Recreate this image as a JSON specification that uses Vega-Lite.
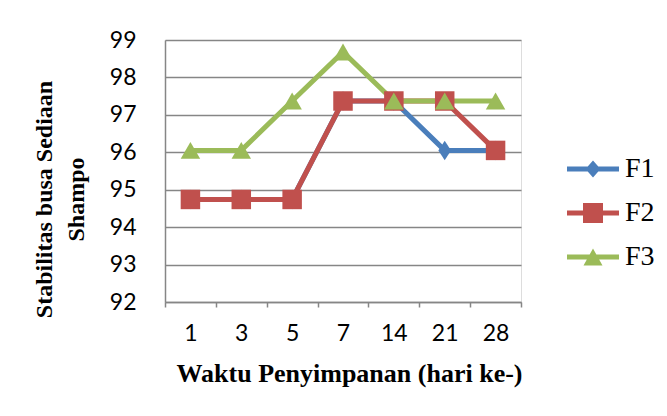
{
  "$schema": "https://vega.github.io/schema/vega-lite/v6.json",
  "width": 356,
  "height": 262,
  "autosize": {"type": "none"},
  "padding": {"left": 165, "top": 40, "right": 146, "bottom": 114},
  "background": "white",
  "data": {
    "values": [
      {"hari": 1, "series": "F1", "nilai": 94.74},
      {"hari": 3, "series": "F1", "nilai": 94.74},
      {"hari": 5, "series": "F1", "nilai": 94.74},
      {"hari": 7, "series": "F1", "nilai": 97.37},
      {"hari": 14, "series": "F1", "nilai": 97.37},
      {"hari": 21, "series": "F1", "nilai": 96.05},
      {"hari": 28, "series": "F1", "nilai": 96.05},
      {"hari": 1, "series": "F2", "nilai": 94.74},
      {"hari": 3, "series": "F2", "nilai": 94.74},
      {"hari": 5, "series": "F2", "nilai": 94.74},
      {"hari": 7, "series": "F2", "nilai": 97.37},
      {"hari": 14, "series": "F2", "nilai": 97.37},
      {"hari": 21, "series": "F2", "nilai": 97.37},
      {"hari": 28, "series": "F2", "nilai": 96.05},
      {"hari": 1, "series": "F3", "nilai": 96.05},
      {"hari": 3, "series": "F3", "nilai": 96.05},
      {"hari": 5, "series": "F3", "nilai": 97.37},
      {"hari": 7, "series": "F3", "nilai": 98.68},
      {"hari": 14, "series": "F3", "nilai": 97.37},
      {"hari": 21, "series": "F3", "nilai": 97.37},
      {"hari": 28, "series": "F3", "nilai": 97.37}
    ]
  },
  "encoding": {
    "x": {
      "field": "hari",
      "type": "ordinal",
      "scale": {"type": "band", "paddingInner": 0, "paddingOuter": 0},
      "axis": {
        "title": "Waktu Penyimpanan (hari ke-)",
        "titleFont": "Liberation Serif",
        "titleFontWeight": "bold",
        "titleFontSize": 26,
        "titleColor": "black",
        "titleX": 184,
        "titleY": 71,
        "titleBaseline": "middle",
        "titleAlign": "center",
        "labelAngle": 0,
        "labelFont": "Lato",
        "labelFontSize": 23,
        "labelColor": "black",
        "labelBaseline": "middle",
        "labelPadding": 26,
        "tickBand": "extent",
        "tickSize": 5,
        "tickColor": "#868686",
        "tickWidth": 1.5,
        "domainColor": "#868686",
        "domainWidth": 1.5,
        "grid": false
      }
    },
    "y": {
      "field": "nilai",
      "type": "quantitative",
      "scale": {"domain": [92, 99], "zero": false, "nice": false},
      "axis": {
        "values": [92, 93, 94, 95, 96, 97, 98, 99],
        "title": ["Stabilitas busa Sediaan", "Shampo"],
        "titleFont": "Liberation Serif",
        "titleFontWeight": "bold",
        "titleFontSize": 24,
        "titleLineHeight": 32,
        "titleColor": "black",
        "titleAngle": -90,
        "titleX": -121,
        "titleY": 159,
        "titleBaseline": "middle",
        "titleAlign": "center",
        "labelFont": "Lato",
        "labelFontSize": 23,
        "labelColor": "black",
        "labelPadding": 29,
        "ticks": false,
        "domainColor": "#868686",
        "domainWidth": 1.5,
        "grid": true,
        "gridColor": "#868686",
        "gridWidth": 1.5
      }
    }
  },
  "resolve": {"scale": {"shape": "independent"}, "legend": {"shape": "independent", "color": "independent"}},
  "layer": [
    {
      "mark": {"type": "line", "strokeWidth": 5},
      "encoding": {
        "color": {
          "field": "series",
          "type": "nominal",
          "scale": {"domain": ["F1", "F2", "F3"], "range": ["#4A7EBB", "#C0504D", "#9BBB59"]},
          "legend": null
        }
      }
    },
    {
      "mark": {"type": "point", "filled": true, "opacity": 1, "size": 380},
      "encoding": {
        "color": {"field": "series", "type": "nominal", "legend": null},
        "shape": {
          "field": "series",
          "type": "nominal",
          "scale": {"domain": ["F1", "F2", "F3"], "range": ["M0,-1L0.65,0L0,1L-0.65,0Z", "square", "triangle-up"]},
          "legend": null
        }
      }
    },
    {
      "transform": [{"filter": "datum.nilai > 1000"}],
      "mark": {"type": "point", "filled": true, "opacity": 1, "size": 400, "strokeWidth": 0},
      "encoding": {
        "color": {
          "field": "series",
          "type": "nominal",
          "legend": {
            "orient": "none",
            "legendX": 414,
            "legendY": 115,
            "title": null,
            "padding": 0,
            "symbolSize": 400,
            "symbolStrokeWidth": 0,
            "symbolOpacity": 1,
            "labelFont": "Liberation Serif",
            "labelFontSize": 28,
            "labelColor": "black",
            "labelOffset": 18,
            "rowPadding": 16
          }
        },
        "shape": {
          "field": "series",
          "type": "nominal",
          "scale": {
            "domain": ["F1", "F2", "F3"],
            "range": [
              "M-2.6,-0.25H2.6V0.25H-2.6Z M0,-0.85L0.75,0L0,0.85L-0.75,0Z",
              "M-2.6,-0.25H2.6V0.25H-2.6Z M-1,-1H1V1H-1Z",
              "M-2.6,-0.25H2.6V0.25H-2.6Z M0,-0.85L0.95,0.85L-0.95,0.85Z"
            ]
          },
          "legend": {
            "orient": "none",
            "legendX": 414,
            "legendY": 115,
            "title": null,
            "padding": 0,
            "symbolSize": 400,
            "symbolStrokeWidth": 0,
            "symbolOpacity": 1,
            "labelFont": "Liberation Serif",
            "labelFontSize": 28,
            "labelColor": "black",
            "labelOffset": 18,
            "rowPadding": 16
          }
        }
      }
    }
  ]
}
